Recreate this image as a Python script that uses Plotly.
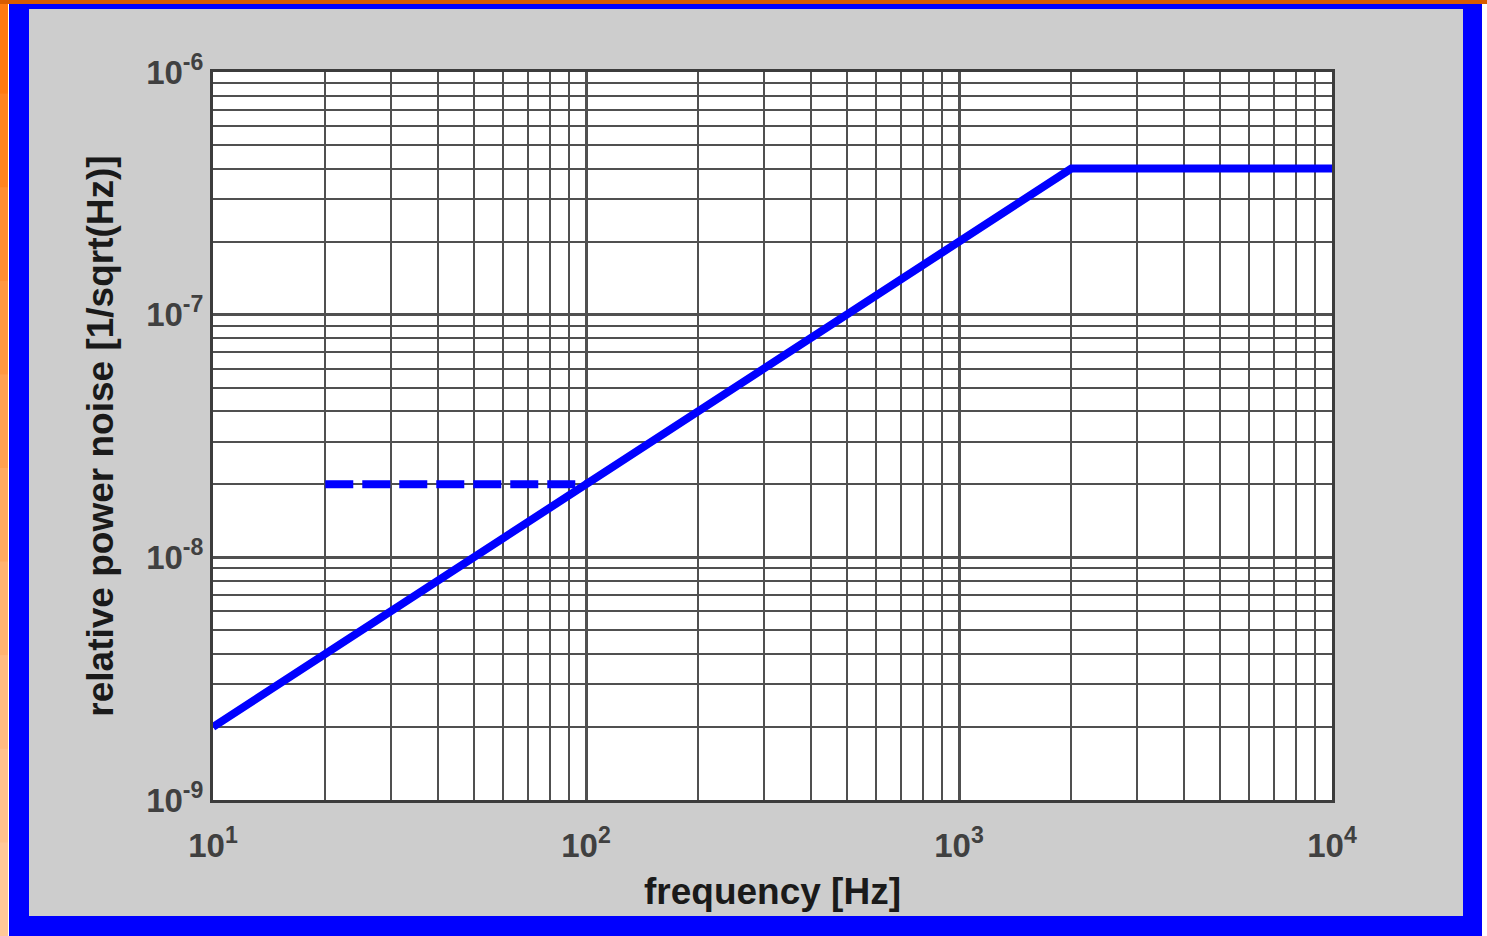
import plotly.graph_objects as go

# Relative power noise requirement vs frequency
freq_req = [10, 2000, 10000]
noise_req = [2e-9, 4e-7, 4e-7]

# Low-frequency relaxed level (dashed)
freq_low = [20, 100]
noise_low = [2e-8, 2e-8]

x_major = [10, 100, 1000, 10000]
x_major_text = ["10<sup>1</sup>", "10<sup>2</sup>", "10<sup>3</sup>", "10<sup>4</sup>"]
y_major = [1e-9, 1e-8, 1e-7, 1e-6]
y_major_text = ["10<sup>-9</sup>", "10<sup>-8</sup>", "10<sup>-7</sup>", "10<sup>-6</sup>"]

x_minor = [m * 10 ** e for e in (1, 2, 3) for m in range(2, 10)]
y_minor = [m * 10.0 ** e for e in (-9, -8, -7) for m in range(2, 10)]

W, H = 1487, 936
L, R, T, B = 213, 1332, 72, 800


def px(x):
    return (x - L) / (R - L)


def py(y):
    return (B - y) / (B - T)


fig = go.Figure()
fig.add_trace(go.Scatter(x=freq_req, y=noise_req, mode="lines",
                         line=dict(color="#0000ff", width=8), showlegend=False))
fig.add_trace(go.Scatter(x=freq_low, y=noise_low, mode="lines",
                         line=dict(color="#0000ff", width=8, dash="28px,9px"),
                         showlegend=False))

shapes = []


def rect(x0, y0, x1, y1, color):
    shapes.append(dict(type="rect", xref="paper", yref="paper", layer="below",
                       x0=px(x0), x1=px(x1), y0=py(y1), y1=py(y0),
                       fillcolor=color, line=dict(width=0)))


# slide edge: orange strip fading downwards
strip = ["#ff7a10", "#ff8420", "#ff8e30", "#ff9840", "#ffa150",
         "#ffaa60", "#ffb370", "#ffbb80", "#ffc28c", "#ffc898"]
step = H / len(strip)
for i, c in enumerate(strip):
    rect(0, i * step, 8, (i + 1) * step + 1, c)
rect(0, 0, W, 4, "#d85c00")
# blue frame, grey panel, white plotting area
rect(9, 4, 1482, H, "#0000ff")
rect(29, 9, 1463, 916, "#cdcdcd")
rect(L, T, R, B, "#ffffff")

grid_col = "#505050"
tick_font = dict(family="Liberation Sans, Arial, sans-serif", size=33, color="#404040",
                 weight="bold")
title_font = dict(family="Liberation Sans, Arial, sans-serif", size=37, color="#1a1a1a")

fig.update_layout(
    width=W, height=H,
    margin=dict(l=L, r=W - R, t=T, b=H - B, autoexpand=False),
    paper_bgcolor="#ffffff",
    plot_bgcolor="#ffffff",
    shapes=shapes,
    xaxis=dict(
        type="log", range=[1, 4],
        tickmode="array", tickvals=x_major, ticktext=x_major_text,
        tickfont=tick_font, ticks="", ticklabelstandoff=14,
        showgrid=True, gridcolor=grid_col, gridwidth=3,
        minor=dict(tickmode="array", tickvals=x_minor, showgrid=True,
                   gridcolor=grid_col, gridwidth=2, ticks=""),
        showline=True, mirror=True, linecolor="#3c3c3c", linewidth=3,
        zeroline=False,
        title=dict(text="<b>frequency [Hz]</b>", font=title_font, standoff=16),
        automargin=False,
    ),
    yaxis=dict(
        type="log", range=[-9, -6],
        tickmode="array", tickvals=y_major, ticktext=y_major_text,
        tickfont=tick_font, ticks="", ticklabelstandoff=0,
        showgrid=True, gridcolor=grid_col, gridwidth=3,
        minor=dict(tickmode="array", tickvals=y_minor, showgrid=True,
                   gridcolor=grid_col, gridwidth=2, ticks=""),
        showline=True, mirror=True, linecolor="#3c3c3c", linewidth=3,
        zeroline=False,
        title=dict(text="<b>relative power noise [1/sqrt(Hz)]</b>", font=title_font, standoff=22),
        automargin=False,
    ),
)

fig.write_html("out.html")
